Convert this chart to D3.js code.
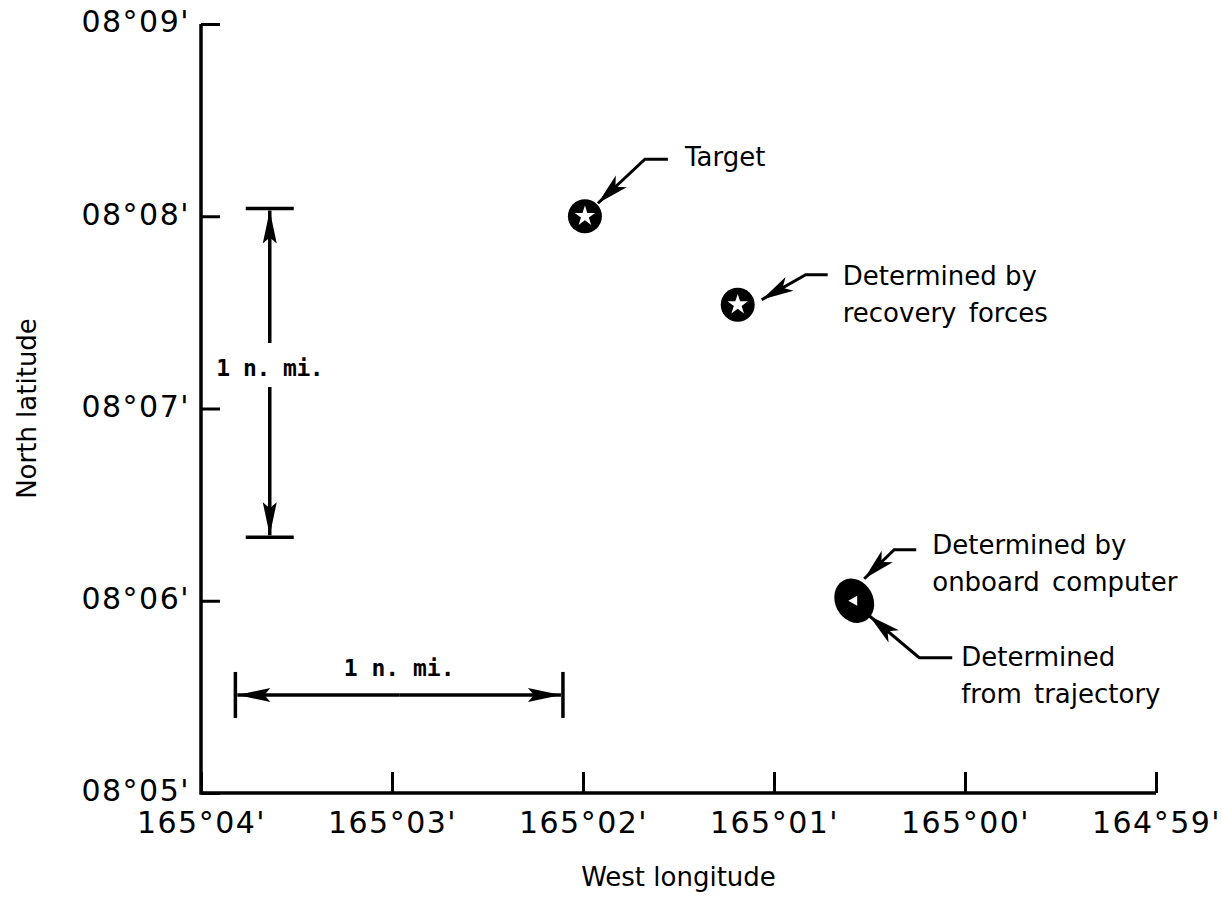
<!DOCTYPE html>
<html>
<head>
<meta charset="utf-8">
<script src="https://cdn.jsdelivr.net/npm/d3@7"></script>
<style>
  body { margin: 0; background: #fff; }
  text { font-family: "DejaVu Sans", sans-serif; fill: #000; }
</style>
</head>
<body>
<script>
const width = 1222;
const height = 901;

// all positions in arc-minutes: longitude = minutes west (165°04' = 9904), latitude = minutes north
const lonTicks = [9904, 9903, 9902, 9901, 9900, 9899];
const latTicks = [485, 486, 487, 488, 489];

const pointNames = ['Target', 'Determined by recovery forces', 'Determined by onboard computer'];
const pointLon = [9901.99, 9901.19, 9900.58];
const pointLat = [488.0, 487.54, 486.0];

// scale bars ("1 n. mi.")
const vBarLon = 9903.64;
const vBarLat = [488.04, 486.33];
const hBarLat = 485.51;
const hBarLon = [9903.82, 9902.105];

// annotation labels, offsets are relative to the marker they point at
const notes = [
  { point: 0, lines: ['Target'], tip: [13, -13], elbow: [60, -57], end: [83, -57], text: [100, -50] },
  { point: 1, lines: ['Determined by', 'recovery forces'], tip: [24, -5], elbow: [68, -30], end: [90, -30], text: [105, -20] },
  { point: 2, lines: ['Determined by', 'onboard computer'], tip: [10, -22], elbow: [40, -51], end: [62, -51], text: [78, -47] },
  { point: 2, lines: ['Determined', 'from trajectory'], tip: [15, 15], elbow: [65, 57], end: [98, 57], text: [107, 65] }
];

const margin = { top: 24, right: 66, bottom: 108, left: 201 };

const x = d3.scaleLinear()
  .domain([9904, 9899])
  .range([margin.left, width - margin.right]);

const y = d3.scaleLinear()
  .domain([485, 489])
  .range([height - margin.bottom, margin.top]);

const pad = n => String(n).padStart(2, '0');
const fmtLon = m => `${Math.floor(m / 60)}°${pad(m % 60)}'`;
const fmtLat = m => `${pad(Math.floor(m / 60))}°${pad(m % 60)}'`;

const svg = d3.select('body').append('svg')
  .attr('width', width)
  .attr('height', height);

const defs = svg.append('defs');
defs.append('marker')
  .attr('id', 'head')
  .attr('markerUnits', 'userSpaceOnUse')
  .attr('viewBox', '-34 -8 36 16')
  .attr('refX', 0).attr('refY', 0)
  .attr('markerWidth', 36).attr('markerHeight', 16)
  .attr('orient', 'auto')
  .append('path')
  .attr('d', 'M0,0 L-33,-7 L-27,0 L-33,7 Z')
  .attr('fill', '#000');

defs.append('marker')
  .attr('id', 'headSmall')
  .attr('markerUnits', 'userSpaceOnUse')
  .attr('viewBox', '-34 -9 36 18')
  .attr('refX', 0).attr('refY', 0)
  .attr('markerWidth', 36).attr('markerHeight', 18)
  .attr('orient', 'auto')
  .append('path')
  .attr('d', 'M0,0 L-32,-8 L-24,0 L-32,8 Z')
  .attr('fill', '#000');

// AXES
const xAxis = d3.axisBottom(x)
  .tickValues(lonTicks)
  .tickFormat(fmtLon)
  .tickSize(-21)
  .tickPadding(19);

const yAxis = d3.axisLeft(y)
  .tickValues(latTicks)
  .tickFormat(fmtLat)
  .tickSize(-19)
  .tickPadding(11);

const gx = svg.append('g')
  .attr('transform', `translate(0, ${y(485)})`)
  .call(xAxis);

const gy = svg.append('g')
  .attr('transform', `translate(${x(9904)}, 0)`)
  .call(yAxis);

[gx, gy].forEach(g => {
  g.select('.domain').remove();
  g.selectAll('.tick line').attr('stroke', '#000').attr('stroke-width', 3);
  g.selectAll('.tick text')
    .attr('fill', '#000')
    .style('font-family', '"DejaVu Sans", sans-serif')
    .style('font-size', '30px')
    .style('letter-spacing', '1.5px');
});
gy.selectAll('.tick text').attr('dy', '0.26em');

// L-shaped frame
svg.append('path')
  .attr('d', `M${x(9904)},${y(489)} V${y(485)} H${x(9899)}`)
  .attr('fill', 'none')
  .attr('stroke', '#000')
  .attr('stroke-width', 3.5);

svg.append('text')
  .attr('x', (x(9904) + x(9899)) / 2)
  .attr('y', 886)
  .attr('text-anchor', 'middle')
  .style('font-size', '26px')
  .text('West longitude');

svg.append('text')
  .attr('transform', `translate(36, ${(y(485) + y(489)) / 2}) rotate(-90)`)
  .attr('text-anchor', 'middle')
  .style('font-size', '26px')
  .text('North latitude');

// SCALE BARS
const bars = svg.append('g').attr('stroke', '#000').attr('stroke-width', 3.5).attr('fill', 'none');

const vx = x(vBarLon);
const [vy0, vy1] = vBarLat.map(y);
const vMid = 368;
bars.append('line').attr('x1', vx - 24).attr('x2', vx + 24).attr('y1', vy0).attr('y2', vy0);
bars.append('line').attr('x1', vx - 24).attr('x2', vx + 24).attr('y1', vy1).attr('y2', vy1);
bars.append('line').attr('x1', vx).attr('x2', vx).attr('y1', vMid - 25).attr('y2', vy0 + 2)
  .attr('marker-end', 'url(#head)');
bars.append('line').attr('x1', vx).attr('x2', vx).attr('y1', vMid + 19).attr('y2', vy1 - 2)
  .attr('marker-end', 'url(#head)');

svg.append('text')
  .attr('x', vx)
  .attr('y', vMid + 8)
  .attr('text-anchor', 'middle')
  .style('font-family', '"DejaVu Sans Mono", monospace')
  .style('font-weight', 'bold')
  .style('font-size', '23px')
  .style('letter-spacing', '-0.5px')
  .text('1 n. mi.');

const hy = y(hBarLat);
const [hx0, hx1] = hBarLon.map(x);
bars.append('line').attr('x1', hx0).attr('x2', hx0).attr('y1', hy - 23).attr('y2', hy + 23);
bars.append('line').attr('x1', hx1).attr('x2', hx1).attr('y1', hy - 23).attr('y2', hy + 23);
bars.append('line').attr('x1', (hx0 + hx1) / 2).attr('x2', hx0 + 2).attr('y1', hy).attr('y2', hy)
  .attr('marker-end', 'url(#head)');
bars.append('line').attr('x1', (hx0 + hx1) / 2).attr('x2', hx1 - 2).attr('y1', hy).attr('y2', hy)
  .attr('marker-end', 'url(#head)');

svg.append('text')
  .attr('x', (hx0 + hx1) / 2)
  .attr('y', hy - 19)
  .attr('text-anchor', 'middle')
  .style('font-family', '"DejaVu Sans Mono", monospace')
  .style('font-weight', 'bold')
  .style('font-size', '23px')
  .text('1 n. mi.');

// MARKERS
const pts = pointNames.map((name, i) => ({ name, lon: pointLon[i], lat: pointLat[i], i }));
const star = d3.symbol().type(d3.symbolStar).size(130);

svg.selectAll('g.pt')
  .data(pts.slice(0, 2))
  .join('g')
  .attr('class', 'pt')
  .attr('transform', d => `translate(${x(d.lon)}, ${y(d.lat)})`)
  .call(g => g.append('circle').attr('r', 17).attr('fill', '#000'))
  .call(g => g.append('path').attr('d', star).attr('fill', '#fff'));

// onboard computer / trajectory fix: smeared blot
const blot = svg.append('g')
  .attr('transform', `translate(${x(pts[2].lon)}, ${y(pts[2].lat)})`);
blot.append('ellipse')
  .attr('rx', 19).attr('ry', 23)
  .attr('transform', 'rotate(-28)')
  .attr('fill', '#000');
blot.append('path')
  .attr('d', d3.symbol().type(d3.symbolTriangle).size(45))
  .attr('transform', 'rotate(-90)')
  .attr('fill', '#fff');

// ANNOTATIONS
notes.forEach(n => {
  const p = pts[n.point];
  const px = x(p.lon), py = y(p.lat);
  svg.append('path')
    .attr('d', `M${px + n.end[0]},${py + n.end[1]} L${px + n.elbow[0]},${py + n.elbow[1]} L${px + n.tip[0]},${py + n.tip[1]}`)
    .attr('fill', 'none')
    .attr('stroke', '#000')
    .attr('stroke-width', 3)
    .attr('marker-end', 'url(#headSmall)');
  const t = svg.append('text')
    .attr('x', px + n.text[0])
    .attr('y', py + n.text[1])
    .style('font-size', '26px');
  n.lines.forEach((line, j) => {
    t.append('tspan')
      .attr('x', px + n.text[0])
      .attr('dy', j === 0 ? 0 : 37)
      .style('word-spacing', j === 1 ? '4px' : '0px')
      .text(line);
  });
});
</script>
</body>
</html>
